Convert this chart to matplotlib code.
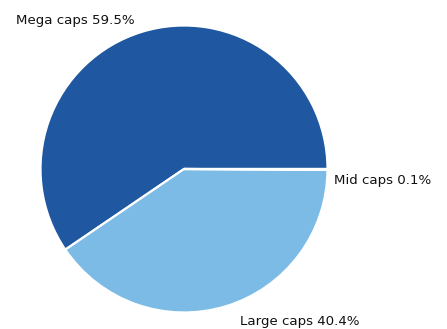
import matplotlib
matplotlib.use("Agg")
import matplotlib.pyplot as plt
import numpy as np

categories = ["Mega caps", "Large caps", "Mid caps"]
values = [59.5, 40.4, 0.1]
colors = ["#1f57a0", "#7bbbe6", "#4a8ac8"]

R_PX = 143.5
CX, CY = 184, 169  # pie center in pixels from top-left
W, H = 447, 329

fig = plt.figure(figsize=(W / 100, H / 100), dpi=100)
ax = fig.add_axes([0, 0, 1, 1])
wedges, _ = ax.pie(values, colors=colors, startangle=0, counterclock=True,
                   wedgeprops=dict(edgecolor="white", linewidth=1.6))
ax.set_aspect("auto")
ax.set_xlim(-CX / R_PX, (W - CX) / R_PX)
ax.set_ylim(-(H - CY) / R_PX, CY / R_PX)
ax.axis("off")

# label placement relative to wedge mid-angle (offsets in points)
offsets = [(-2, -1.6, "right"), (7, -1, "left"), (-6, -8, "left")]
for w, cat, val, (dx, dy, ha) in zip(wedges, categories, values, offsets):
    ang = np.deg2rad((w.theta1 + w.theta2) / 2)
    x, y = 1.1 * np.cos(ang), 1.1 * np.sin(ang)
    ax.annotate(f"{cat} {val:.1f}%", (x, y), xytext=(dx, dy),
                textcoords="offset points", ha=ha, va="center",
                fontsize=9.6, color="#111111", family="DejaVu Sans")

fig.savefig("out.png", dpi=100)
